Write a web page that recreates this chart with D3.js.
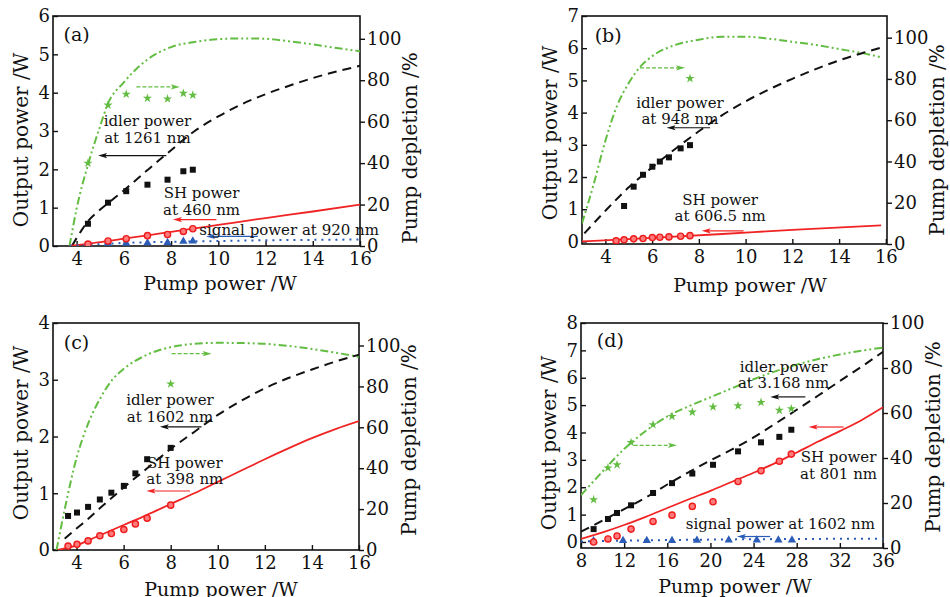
<!DOCTYPE html>
<html>
<head>
<meta charset="utf-8">
<script src="https://cdn.jsdelivr.net/npm/d3@7"></script>
<style>
  body { margin: 0; background: #fff; }
  svg text { font-family: "DejaVu Serif", "Liberation Serif", serif; fill: #111; }
</style>
</head>
<body>
<div id="chart"></div>
<script>
// ---------- panel (a) ----------
const aDeplCurveX = [3.7, 4.0, 4.5, 5.0, 5.3, 6.0, 6.4, 7.0, 8.0, 9.0, 10.0, 11.0, 12.0, 13.0, 14.0, 15.0, 16.0];
const aDeplCurveY = [0, 18, 40, 58, 68, 79, 84, 90, 96, 98.5, 99.8, 100.2, 100, 98.8, 97.3, 95.6, 94];
const aIdlerCurveX = [3.8, 4.2, 4.5, 5.0, 5.5, 6.0, 7.0, 8.0, 9.0, 10.0, 11.0, 12.0, 13.0, 14.0, 15.0, 16.0];
const aIdlerCurveY = [0, 0.4, 0.66, 0.95, 1.2, 1.45, 1.98, 2.5, 3.0, 3.38, 3.7, 3.96, 4.18, 4.38, 4.55, 4.7];
const aShCurveX = [3.7, 5, 6, 7, 8, 9, 10, 12, 14, 16];
const aShCurveY = [0, 0.1, 0.19, 0.28, 0.37, 0.46, 0.55, 0.73, 0.9, 1.08];
const aSigCurveX = [3.7, 5, 6, 8, 10, 12, 14, 16];
const aSigCurveY = [0, 0.05, 0.08, 0.11, 0.13, 0.15, 0.16, 0.17];
const aPump = [4.48, 5.33, 6.1, 7.0, 7.85, 8.52, 8.92];
const aDepl = [40, 68, 73.3, 71.3, 71, 73.7, 72.8];
const aIdler = [0.58, 1.13, 1.43, 1.6, 1.73, 1.95, 1.99];
const aSh = [0.05, 0.13, 0.19, 0.27, 0.3, 0.38, 0.45];
const aSigPump = [5.33, 6.1, 7.0, 7.85, 8.52, 8.92];
const aSig = [0.07, 0.07, 0.08, 0.09, 0.12, 0.13];

// ---------- panel (b) ----------
const bDeplCurveX = [3.0, 3.5, 4.0, 4.5, 5.0, 5.5, 6.0, 7.0, 8.0, 9.0, 10.0, 11.0, 12.0, 13.0, 14.0, 15.0, 15.8];
const bDeplCurveY = [10, 29, 50, 67, 78, 86, 91, 96.5, 99, 100.5, 100.5, 99.5, 98, 96.5, 94.5, 92.5, 90.5];
const bIdlerCurveX = [3.1, 4, 5, 6, 7, 8, 9, 10, 11, 12, 13, 14, 15, 15.8];
const bIdlerCurveY = [0.25, 0.95, 1.68, 2.3, 2.88, 3.42, 3.92, 4.35, 4.72, 5.05, 5.35, 5.62, 5.85, 6.02];
const bShCurveX = [3.0, 6, 9, 12, 15.8];
const bShCurveY = [0, 0.11, 0.23, 0.36, 0.5];
const bIdlerPump = [4.8, 5.21, 5.61, 6.01, 6.33, 6.72, 7.22, 7.62];
const bIdler = [1.1, 1.7, 2.07, 2.32, 2.48, 2.61, 2.89, 2.99];
const bShPump = [4.46, 4.8, 5.21, 5.61, 6.01, 6.33, 6.72, 7.22, 7.62];
const bSh = [0.02, 0.05, 0.08, 0.09, 0.12, 0.13, 0.14, 0.16, 0.18];
const bDeplPump = [7.62];
const bDepl = [80.2];

// ---------- panel (c) ----------
const cDeplCurveX = [3.15, 3.5, 4.0, 4.5, 5.0, 5.5, 6.0, 7.0, 8.0, 9.0, 10.0, 11.0, 12.0, 13.0, 14.0, 15.0, 16.0];
const cDeplCurveY = [0, 20, 45, 62, 74, 83, 88.5, 95.5, 99.2, 100.8, 101.3, 101.2, 100.8, 99.8, 98.3, 96.5, 94.4];
const cIdlerCurveX = [3.5, 4, 4.5, 5, 5.5, 6, 7, 8, 9, 10, 11, 12, 13, 14, 15, 16];
const cIdlerCurveY = [0.2, 0.38, 0.55, 0.74, 0.92, 1.1, 1.44, 1.78, 2.08, 2.38, 2.63, 2.85, 3.03, 3.18, 3.32, 3.44];
const cShCurveX = [3.2, 4, 4.5, 5, 6, 7, 8, 9, 10, 11, 12, 13, 14, 15, 16];
const cShCurveY = [0, 0.08, 0.17, 0.26, 0.44, 0.62, 0.81, 1.0, 1.2, 1.4, 1.6, 1.79, 1.97, 2.13, 2.27];
const cPump = [3.64, 4.02, 4.49, 4.99, 5.48, 6.01, 6.5, 7.0, 8.0];
const cIdler = [0.6, 0.66, 0.76, 0.89, 1.01, 1.13, 1.35, 1.6, 1.8];
const cSh = [0.07, 0.1, 0.16, 0.25, 0.29, 0.36, 0.46, 0.56, 0.79];
const cDeplPump = [8.0];
const cDepl = [81.2];

// ---------- panel (d) ----------
const dDeplCurveX = [8, 10, 12, 14, 16, 18, 20, 22, 24, 26, 28, 30, 32, 34, 36];
const dDeplCurveY = [23.5, 34, 44, 52, 58.5, 63, 67, 71, 75, 78.5, 81.5, 84, 86, 87.7, 89];
const dIdlerCurveX = [8, 10, 12, 14, 16, 18, 20, 22, 24, 26, 28, 30, 32, 34, 36];
const dIdlerCurveY = [0.38, 0.78, 1.2, 1.62, 2.1, 2.55, 2.98, 3.38, 3.82, 4.32, 4.83, 5.35, 5.88, 6.4, 6.95];
const dShCurveX = [8, 10, 12, 14, 16, 18, 20, 22, 24, 26, 28, 30, 32, 34, 36];
const dShCurveY = [0.11, 0.35, 0.62, 0.92, 1.24, 1.56, 1.87, 2.2, 2.53, 2.88, 3.27, 3.67, 4.05, 4.45, 4.92];
const dSigCurveX = [8, 16, 24, 36];
const dSigCurveY = [0.02, 0.07, 0.1, 0.12];
const dPump = [9.17, 10.5, 11.34, 12.64, 14.68, 16.44, 18.32, 20.24, 22.56, 24.69, 26.39, 27.5];
const dDepl = [21.5, 35.6, 37, 46.9, 54.8, 58.5, 60.4, 62.7, 63.2, 64.7, 61.2, 61.9];
const dIdler = [0.47, 0.84, 1.06, 1.34, 1.79, 2.15, 2.5, 2.82, 3.31, 3.64, 3.84, 4.1];
const dSh = [0.0, 0.11, 0.22, 0.47, 0.75, 0.98, 1.3, 1.47, 2.21, 2.6, 2.95, 3.21];
const dSigPump = [9.17, 11.9, 14.1, 16.44, 18.75, 21.7, 24.3, 26.3, 27.56];
const dSig = [0.04, 0.05, 0.05, 0.05, 0.06, 0.07, 0.07, 0.07, 0.07];

const GREEN = "#62bd42", RED = "#f02424", BLUE = "#2a5cb8";
const FONT = "DejaVu Serif";

const zip = (xs, ys) => xs.map((x, i) => [x, ys[i]]);

const panels = [
  {
    tag: "(a)", box: {l: 53, t: 16, r: 360, b: 246},
    xDom: [3, 16], xTicks: [4, 6, 8, 10, 12, 14, 16],
    yDom: [0, 6], yTicks: [0, 1, 2, 3, 4, 5, 6],
    rDom: [0, 111], rTicks: [0, 20, 40, 60, 80, 100],
    tagPos: [4.0, 5.52],
    depl: zip(aDeplCurveX, aDeplCurveY), idler: zip(aIdlerCurveX, aIdlerCurveY),
    sh: zip(aShCurveX, aShCurveY), sig: zip(aSigCurveX, aSigCurveY),
    deplPts: zip(aPump, aDepl), idlerPts: zip(aPump, aIdler),
    shPts: zip(aPump, aSh), sigPts: zip(aSigPump, aSig),
    notes: [
      {lines: ["idler power", "at 1261 nm"], x: 7.0, y: [3.27, 2.83]},
      {lines: ["SH power", "at 460 nm"], x: 9.29, y: [1.37, 0.93]},
      {lines: ["signal power at 920 nm"], x: 13.0, y: [0.42]}
    ],
    arrows: [
      {c: GREEN, dash: "4,2", y: 4.15, x1: 6.53, x2: 8.37},
      {c: "#111", y: 2.36, x1: 7.8, x2: 4.91},
      {c: RED, y: 0.69, x1: 9.92, x2: 8.08},
      {c: BLUE, y: 0.25, x1: 11.67, x2: 9.48}
    ],
    titleY: 140, rightTitleY: 148, bottomTitleX: 220, bottomTitleY: 283
  },
  {
    tag: "(b)", box: {l: 582, t: 16, r: 887, b: 244},
    xDom: [3, 16.05], xTicks: [4, 6, 8, 10, 12, 14, 16],
    yDom: [-0.08, 7], yTicks: [0, 1, 2, 3, 4, 5, 6, 7],
    rDom: [0, 110.5], rTicks: [0, 20, 40, 60, 80, 100],
    tagPos: [4.12, 6.4],
    depl: zip(bDeplCurveX, bDeplCurveY), idler: zip(bIdlerCurveX, bIdlerCurveY),
    sh: zip(bShCurveX, bShCurveY), sig: null,
    deplPts: zip(bDeplPump, bDepl), idlerPts: zip(bIdlerPump, bIdler),
    shPts: zip(bShPump, bSh), sigPts: [],
    notes: [
      {lines: ["idler power", "at 948 nm"], x: 7.19, y: [4.29, 3.8]},
      {lines: ["SH power", "at 606.5 nm"], x: 8.91, y: [1.29, 0.8]}
    ],
    arrows: [
      {c: GREEN, dash: "4,2", y: 5.39, x1: 5.48, x2: 7.41},
      {c: "#111", y: 3.53, x1: 8.48, x2: 6.62},
      {c: RED, y: 0.33, x1: 9.91, x2: 8.12}
    ],
    titleY: 133, rightTitleY: 140, bottomTitleX: 750, bottomTitleY: 285
  },
  {
    tag: "(c)", box: {l: 53, t: 323, r: 359, b: 550},
    xDom: [3, 16], xTicks: [4, 6, 8, 10, 12, 14, 16],
    yDom: [0, 4], yTicks: [0, 1, 2, 3, 4],
    rDom: [0, 111], rTicks: [0, 20, 40, 60, 80, 100],
    tagPos: [4.0, 3.67],
    depl: zip(cDeplCurveX, cDeplCurveY), idler: zip(cIdlerCurveX, cIdlerCurveY),
    sh: zip(cShCurveX, cShCurveY), sig: null,
    deplPts: zip(cDeplPump, cDepl), idlerPts: zip(cPump, cIdler),
    shPts: zip(cPump, cSh), sigPts: [],
    notes: [
      {lines: ["idler power", "at 1602 nm"], x: 7.97, y: [2.65, 2.35]},
      {lines: ["SH power", "at 398 nm"], x: 8.6, y: [1.53, 1.25]}
    ],
    arrows: [
      {c: GREEN, dash: "4,2", y: 3.46, x1: 8.04, x2: 9.74},
      {c: "#111", y: 2.17, x1: 9.31, x2: 7.54},
      {c: RED, y: 1.04, x1: 8.82, x2: 6.97}
    ],
    titleY: 433, rightTitleY: 440, bottomTitleX: 221, bottomTitleY: 589
  },
  {
    tag: "(d)", box: {l: 581, t: 323, r: 883, b: 548},
    xDom: [8, 36], xTicks: [8, 12, 16, 20, 24, 28, 32, 36],
    yDom: [-0.22, 8], yTicks: [0, 1, 2, 3, 4, 5, 6, 7, 8],
    rDom: [0, 100], rTicks: [0, 20, 40, 60, 80, 100],
    tagPos: [10.72, 7.39],
    depl: zip(dDeplCurveX, dDeplCurveY), idler: zip(dIdlerCurveX, dIdlerCurveY),
    sh: zip(dShCurveX, dShCurveY), sig: zip(dSigCurveX, dSigCurveY),
    deplPts: zip(dPump, dDepl), idlerPts: zip(dPump, dIdler),
    shPts: zip(dPump, dSh), sigPts: zip(dSigPump, dSig),
    notes: [
      {lines: ["idler power", "at 3.168 nm"], x: 26.78, y: [6.38, 5.8]},
      {lines: ["SH power", "at 801 nm"], x: 31.88, y: [3.1, 2.5]},
      {lines: ["signal power at 1602 nm"], x: 26.48, y: [0.66]}
    ],
    arrows: [
      {c: GREEN, dash: "4,2", y: 3.53, x1: 12.88, x2: 16.9},
      {c: "#111", y: 5.3, x1: 28.8, x2: 25.55},
      {c: RED, y: 4.2, x1: 32.35, x2: 29.1},
      {c: BLUE, y: 0.2, x1: 25.55, x2: 22.46}
    ],
    titleY: 443, rightTitleY: 437, bottomTitleX: 735, bottomTitleY: 586
  }
];

const svg = d3.select("#chart").append("svg")
  .attr("width", 950).attr("height", 597);

const defs = svg.append("defs");

panels.forEach((p, idx) => {
  const {l, t, r, b} = p.box;
  const x = d3.scaleLinear().domain(p.xDom).range([l, r]);
  const y = d3.scaleLinear().domain(p.yDom).range([b, t]);
  const yr = d3.scaleLinear().domain(p.rDom).range([b, t]);

  defs.append("clipPath").attr("id", "clip" + idx)
    .append("rect").attr("x", l).attr("y", t).attr("width", r - l).attr("height", b - t);

  const g = svg.append("g");

  // axes (ticks only; the frame is drawn as a rect)
  const xAxis = g.append("g").attr("transform", `translate(0,${b})`)
    .call(d3.axisBottom(x).tickValues(p.xTicks).tickSize(-5).tickPadding(6).tickFormat(d3.format("d")));
  const yAxis = g.append("g").attr("transform", `translate(${l},0)`)
    .call(d3.axisLeft(y).tickValues(p.yTicks).tickSize(-5).tickPadding(3).tickFormat(d3.format("d")));
  const rAxis = g.append("g").attr("transform", `translate(${r},0)`)
    .call(d3.axisRight(yr).tickValues(p.rTicks).tickSize(5).tickPadding(2).tickFormat(d3.format("d")));
  [xAxis, yAxis, rAxis].forEach(ax => {
    ax.attr("font-family", FONT);
    ax.select(".domain").remove();
    ax.selectAll("line").attr("stroke", "#111").attr("stroke-width", 1.4);
    ax.selectAll("text").attr("font-size", 18).attr("fill", "#111");
  });

  g.append("rect").attr("x", l).attr("y", t).attr("width", r - l).attr("height", b - t)
    .attr("fill", "none").attr("stroke", "#111").attr("stroke-width", 1.6);

  const plot = g.append("g").attr("clip-path", `url(#clip${idx})`);

  const lineL = d3.line().x(d => x(d[0])).y(d => y(d[1])).curve(d3.curveMonotoneX);
  const lineR = d3.line().x(d => x(d[0])).y(d => yr(d[1])).curve(d3.curveMonotoneX);

  plot.append("path").datum(p.depl).attr("d", lineR)
    .attr("fill", "none").attr("stroke", GREEN).attr("stroke-width", 2)
    .attr("stroke-dasharray", "8,3,2,3,2,3");
  plot.append("path").datum(p.idler).attr("d", lineL)
    .attr("fill", "none").attr("stroke", "#111").attr("stroke-width", 2)
    .attr("stroke-dasharray", "9,6");
  plot.append("path").datum(p.sh).attr("d", lineL)
    .attr("fill", "none").attr("stroke", RED).attr("stroke-width", 1.8);
  if (p.sig) {
    plot.append("path").datum(p.sig).attr("d", lineL)
      .attr("fill", "none").attr("stroke", BLUE).attr("stroke-width", 2)
      .attr("stroke-dasharray", "2,5");
  }

  // markers
  plot.selectAll(".tri").data(p.sigPts).enter().append("path")
    .attr("d", d3.symbol(d3.symbolTriangle, 30))
    .attr("transform", d => `translate(${x(d[0])},${y(d[1])})`)
    .attr("fill", BLUE);
  plot.selectAll(".sq").data(p.idlerPts).enter().append("rect")
    .attr("x", d => x(d[0]) - 3).attr("y", d => y(d[1]) - 3)
    .attr("width", 6).attr("height", 6).attr("fill", "#111");
  plot.selectAll(".ci").data(p.shPts).enter().append("circle")
    .attr("cx", d => x(d[0])).attr("cy", d => y(d[1])).attr("r", 3.1)
    .attr("fill", "#ff7a7a").attr("stroke", "#ee1c1c").attr("stroke-width", 1.4);
  plot.selectAll(".st").data(p.deplPts).enter().append("path")
    .attr("d", d3.symbol(d3.symbolStar, 26))
    .attr("transform", d => `translate(${x(d[0])},${yr(d[1])})`)
    .attr("fill", GREEN);

  // arrows
  p.arrows.forEach(a => {
    const x1 = x(a.x1), x2 = x(a.x2), yy = y(a.y);
    const dir = x2 > x1 ? 1 : -1;
    g.append("line").attr("x1", x1).attr("x2", x2 - dir * 4).attr("y1", yy).attr("y2", yy)
      .attr("stroke", a.c).attr("stroke-width", 1.2)
      .attr("stroke-dasharray", a.dash || null);
    g.append("path")
      .attr("d", `M${x2},${yy} L${x2 - dir * 9},${yy - 2.6} L${x2 - dir * 7},${yy} L${x2 - dir * 9},${yy + 2.6} Z`)
      .attr("fill", a.c);
  });

  // annotations
  p.notes.forEach(n => {
    n.lines.forEach((s, i) => {
      g.append("text").attr("x", x(n.x)).attr("y", y(n.y[i]))
        .attr("text-anchor", "middle").attr("dominant-baseline", "central")
        .attr("font-family", FONT).attr("font-size", 15).text(s);
    });
  });

  g.append("text").attr("x", x(p.tagPos[0])).attr("y", y(p.tagPos[1]))
    .attr("text-anchor", "middle").attr("dominant-baseline", "central")
    .attr("font-family", FONT).attr("font-size", 19).text(p.tag);

  // axis titles
  g.append("text").attr("transform", `translate(${l - 32},${p.titleY}) rotate(-90)`)
    .attr("text-anchor", "middle").attr("dominant-baseline", "central")
    .attr("font-family", FONT).attr("font-size", 20).text("Output power /W");
  g.append("text").attr("transform", `translate(${r + 50},${p.rightTitleY}) rotate(-90)`)
    .attr("text-anchor", "middle").attr("dominant-baseline", "central")
    .attr("font-family", FONT).attr("font-size", 20).text("Pump depletion /%");
  g.append("text").attr("x", p.bottomTitleX).attr("y", p.bottomTitleY)
    .attr("text-anchor", "middle").attr("dominant-baseline", "central")
    .attr("font-family", FONT).attr("font-size", 19).text("Pump power /W");
});
</script>
</body>
</html>
